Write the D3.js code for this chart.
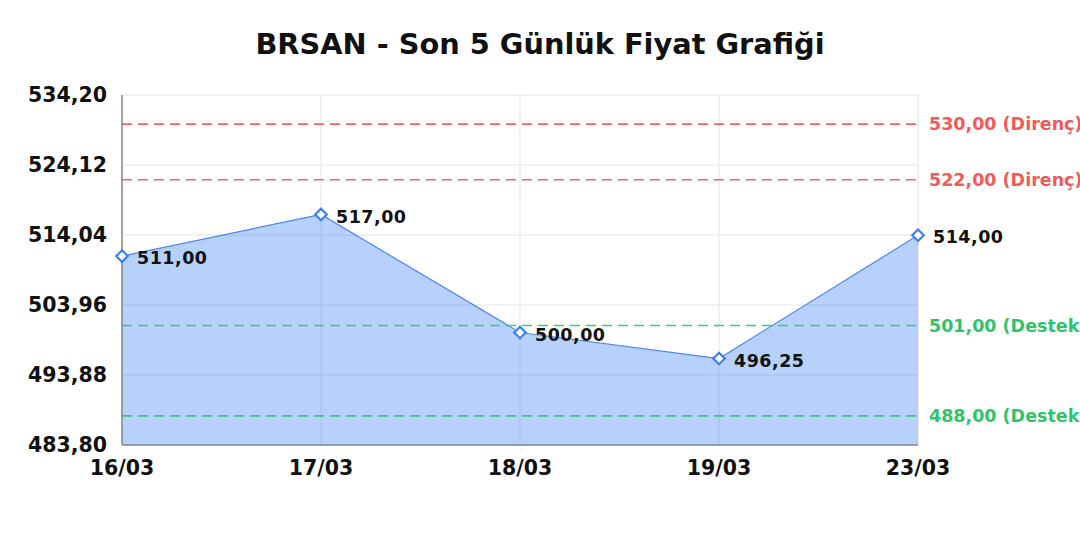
<!DOCTYPE html>
<html><head><meta charset="utf-8">
<script src="https://cdn.jsdelivr.net/npm/d3@7"></script>
<style>html,body{margin:0;padding:0;background:#fff;}svg{display:block;font-family:"DejaVu Sans",sans-serif;}</style>
</head><body>
<svg id="c" width="1080" height="540"></svg>
<script>
const title = "BRSAN - Son 5 Günlük Fiyat Grafiği";
const categories = ["16/03","17/03","18/03","19/03","23/03"];
const prices = [511.00, 517.00, 500.00, 496.25, 514.00];
const yTicks = [483.80, 493.88, 503.96, 514.04, 524.12, 534.20];
const resistance = [530.00, 522.00];
const support = [501.00, 488.00];

const fmt = v => v.toFixed(2).replace(".", ",");
const svg = d3.select("#c");
const m = {l:122, r:918, t:95, b:445};
const x = d3.scalePoint().domain(categories).range([m.l, m.r]);
const y = d3.scaleLinear().domain([yTicks[0], yTicks[yTicks.length-1]]).range([m.b, m.t]);

svg.append("text").attr("x", 540).attr("y", 54).attr("text-anchor","middle")
  .attr("font-size", 28.8).attr("font-weight","bold").attr("fill","#111").text(title);

// grid
const g = svg.append("g");
g.selectAll(".hg").data(yTicks).join("line")
  .attr("x1", m.l).attr("x2", m.r).attr("y1", d=>y(d)).attr("y2", d=>y(d))
  .attr("stroke", "#e3e3e3").attr("stroke-width", 1);
g.selectAll(".vg").data(categories).join("line")
  .attr("x1", d=>x(d)).attr("x2", d=>x(d)).attr("y1", m.t).attr("y2", m.b)
  .attr("stroke", "#e3e3e3").attr("stroke-width", 1);

const data = categories.map((c,i)=>({c, v:prices[i]}));
svg.append("path").datum(data)
  .attr("d", d3.area().x(d=>x(d.c)).y0(y(yTicks[0])).y1(d=>y(d.v)))
  .attr("fill", "rgba(59,130,246,0.37)");
svg.append("path").datum(data)
  .attr("d", d3.line().x(d=>x(d.c)).y(d=>y(d.v)))
  .attr("fill","none").attr("stroke","#4a86f0").attr("stroke-width",1.2);

// reference lines
function refLines(vals, color, textColor, label){
  svg.selectAll(null).data(vals).join("line")
    .attr("x1", m.l).attr("x2", m.r).attr("y1", d=>y(d)).attr("y2", d=>y(d))
    .attr("stroke", color).attr("stroke-width", 1.6).attr("stroke-dasharray","10,6");
  svg.selectAll(null).data(vals).join("text")
    .attr("x", 929).attr("y", d=>y(d)).attr("dy","0.35em")
    .attr("font-size", 17.5).attr("font-weight","bold").attr("fill", textColor)
    .text(d=>fmt(d)+" ("+label+")");
}
refLines(resistance, "#f26464", "#f05a5a", "Direnç");
refLines(support, "#3acb6e", "#2fc36a", "Destek");

// axes lines
svg.append("line").attr("x1",m.l).attr("x2",m.l).attr("y1",m.t).attr("y2",m.b).attr("stroke","#888").attr("stroke-width",1.5);
svg.append("line").attr("x1",m.l).attr("x2",m.r).attr("y1",m.b).attr("y2",m.b).attr("stroke","#888").attr("stroke-width",1.5);

// markers
const diamond = d3.symbol().type(d3.symbolDiamond2).size(85);
svg.selectAll(".mk").data(data).join("path")
  .attr("d", diamond).attr("transform", d=>`translate(${x(d.c)},${y(d.v)})`)
  .attr("fill","#fff").attr("stroke","#3b7ff0").attr("stroke-width",2.2);

svg.selectAll(".dl").data(data).join("text")
  .attr("x", d=>x(d.c)+15).attr("y", d=>y(d.v)+2).attr("dy","0.35em")
  .attr("font-size", 17.5).attr("font-weight","bold").attr("fill","#111")
  .attr("letter-spacing", 0.5)
  .text(d=>fmt(d.v));

// tick labels
svg.selectAll(".yt").data(yTicks).join("text")
  .attr("x", 107).attr("y", d=>y(d)).attr("dy","0.35em").attr("text-anchor","end")
  .attr("font-size", 20.5).attr("font-weight","bold").attr("fill","#111").text(d=>fmt(d));
svg.selectAll(".xt").data(categories).join("text")
  .attr("x", d=>x(d)).attr("y", 475).attr("text-anchor","middle")
  .attr("font-size", 20.5).attr("font-weight","bold").attr("fill","#111").text(d=>d);
</script>
</body></html>
